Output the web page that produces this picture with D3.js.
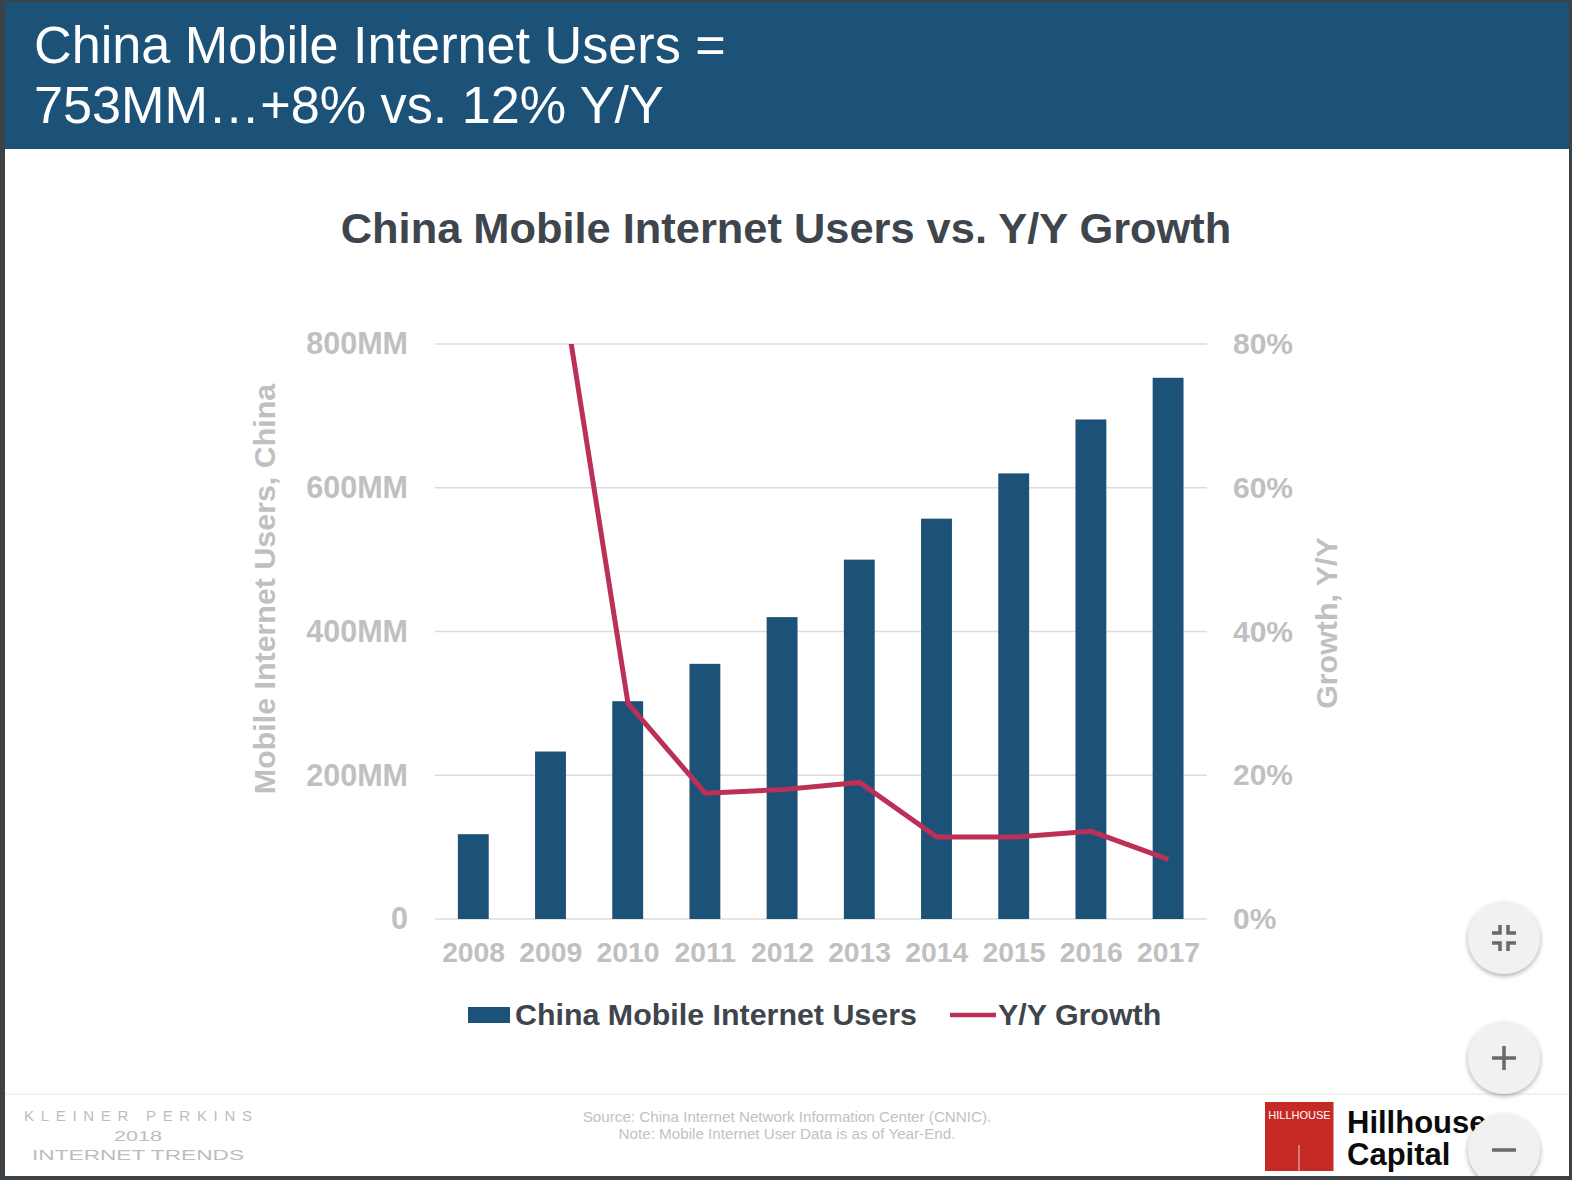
<!DOCTYPE html>
<html><head><meta charset="utf-8">
<script src="https://cdnjs.cloudflare.com/ajax/libs/d3/7.8.5/d3.min.js"></script>
<style>html,body{margin:0;padding:0;background:#3d4246;overflow:hidden}svg{display:block}</style>
</head><body><svg id="c" width="1572" height="1180"></svg>
<script>
const years=["2008","2009","2010","2011","2012","2013","2014","2015","2016","2017"];
const users=[118,233,303,355,420,500,557,620,695,753];
const growth=[null,98,30,17.5,18,19,11.4,11.4,12.2,8.3];
const leftTicks=[0,200,400,600,800];
const rightTicks=[0,20,40,60,80];
const headline=["China Mobile Internet Users =","753MM…+8% vs. 12% Y/Y"];
const chartTitle="China Mobile Internet Users vs. Y/Y Growth";
const legendLabels=["China Mobile Internet Users","Y/Y Growth"];
const sourceLines=["Source: China Internet Network Information Center (CNNIC).","Note: Mobile Internet User Data is as of Year-End."];
const BLUE="#1d5278",RED="#bc3058",GREY="#c0c0c0",DARK="#3e454c";
const AR="'Liberation Sans', Arial, sans-serif";
const svg=d3.select("#c");
svg.append("rect").attr("x",5).attr("y",2).attr("width",1564).attr("height",1174).attr("fill","#fff");
svg.append("rect").attr("x",5).attr("y",2).attr("width",1564).attr("height",147).attr("fill",BLUE);
svg.selectAll("text.h").data(headline).join("text").attr("class","h")
  .attr("x",34).attr("y",(d,i)=>63+i*60).attr("fill","#fff").attr("font-family",AR).attr("font-size",52.2).text(d=>d);
svg.append("text").attr("x",786).attr("y",243).attr("text-anchor","middle").attr("fill",DARK)
  .attr("font-family",AR).attr("font-weight",700).attr("font-size",43.4).text(chartTitle);

const x=d3.scaleBand().domain(years).range([435,1207]).paddingInner(0.6).paddingOuter(0.3);
const y=d3.scaleLinear().domain([0,800]).range([919,344]);
const yR=d3.scaleLinear().domain([0,80]).range([919,344]);

const grid=svg.append("g");
grid.selectAll("line").data(leftTicks).join("line").attr("x1",435).attr("x2",1207)
  .attr("y1",d=>y(d)).attr("y2",d=>y(d)).attr("stroke","#dcdcdc").attr("stroke-width",1.6);

const style=size=>g=>{g.select(".domain").remove();g.selectAll(".tick line").remove();
  g.selectAll("text").attr("fill",GREY).attr("font-family",AR).attr("font-weight",700).attr("font-size",size);};
svg.append("g").attr("transform","translate(434,0)")
  .call(d3.axisLeft(y).tickValues(leftTicks).tickSize(0).tickPadding(26).tickFormat(d=>d?d+"MM":"0")).call(style(30.5));
svg.append("g").attr("transform","translate(1207,0)")
  .call(d3.axisRight(yR).tickValues(rightTicks).tickSize(0).tickPadding(26).tickFormat(d=>d+"%")).call(style(30));
svg.append("g").attr("transform","translate(0,918)")
  .call(d3.axisBottom(x).tickSize(0).tickPadding(24)).call(style(28.3));

svg.append("g").selectAll("rect").data(years).join("rect")
  .attr("x",d=>x(d)-0.3).attr("width",x.bandwidth())
  .attr("y",(d,i)=>y(users[i])).attr("height",(d,i)=>y(0)-y(users[i])).attr("fill",BLUE);

svg.append("clipPath").attr("id","pc").append("rect").attr("x",435).attr("y",344).attr("width",772).attr("height",575);
const line=d3.line().defined(d=>d[1]!==null).x(d=>x(d[0])+x.bandwidth()/2).y(d=>yR(d[1]));
svg.append("path").attr("clip-path","url(#pc)").attr("d",line(years.map((d,i)=>[d,growth[i]])))
  .attr("fill","none").attr("stroke",RED).attr("stroke-width",5).attr("stroke-linejoin","miter");

const at=(xx,yy,t)=>svg.append("text").attr("transform",`translate(${xx},${yy}) rotate(-90)`).attr("text-anchor","middle")
  .attr("fill",GREY).attr("font-family",AR).attr("font-weight",700).attr("font-size",30.4).text(t);
at(275,589,"Mobile Internet Users, China");
at(1337,623,"Growth, Y/Y");

// legend
svg.append("rect").attr("x",468).attr("y",1007).attr("width",42).attr("height",16).attr("fill",BLUE);
svg.append("line").attr("x1",950).attr("x2",996).attr("y1",1015).attr("y2",1015).attr("stroke",RED).attr("stroke-width",4.5);
svg.selectAll("text.l").data(legendLabels).join("text").attr("class","l")
  .attr("x",(d,i)=>[515,998][i]).attr("y",1025).attr("fill",DARK).attr("font-family",AR).attr("font-weight",700).attr("font-size",30.4).text(d=>d);

// footer
svg.append("line").attr("x1",5).attr("x2",1569).attr("y1",1094).attr("y2",1094).attr("stroke","#efefef").attr("stroke-width",1.5);
svg.selectAll("text.s").data(sourceLines).join("text").attr("class","s").attr("x",787).attr("y",(d,i)=>1122+i*16.5)
  .attr("text-anchor","middle").attr("fill","#c2c2c2").attr("font-family",AR).attr("font-size",15.2).text(d=>d);
const kp=[["KLEINER PERKINS",138,1121,15,228,"spacing"],["2018",138,1141,14,48,"spacingAndGlyphs"],["INTERNET TRENDS",138,1160,15,212,"spacingAndGlyphs"]];
svg.selectAll("text.k").data(kp).join("text").attr("class","k").attr("x",d=>d[1]).attr("y",d=>d[2]).attr("text-anchor","middle")
  .attr("fill","#bdbdbd").attr("font-family",AR).attr("font-size",d=>d[3]).attr("textLength",d=>d[4]).attr("lengthAdjust",d=>d[5]).text(d=>d[0]);

// logo
svg.append("rect").attr("x",1265).attr("y",1102).attr("width",68.5).attr("height",69).attr("fill","#c62a25");
svg.append("line").attr("x1",1299).attr("x2",1299).attr("y1",1145).attr("y2",1171).attr("stroke","#f0c0bb").attr("stroke-width",1);
svg.append("text").attr("x",1299.5).attr("y",1119).attr("text-anchor","middle").attr("fill","#fff").attr("font-family",AR).attr("font-size",11).text("HILLHOUSE");
svg.selectAll("text.hc").data(["Hillhouse","Capital"]).join("text").attr("class","hc").attr("x",1347).attr("y",(d,i)=>1133+i*32)
  .attr("fill","#0b0b0b").attr("font-family",AR).attr("font-weight",700).attr("font-size",31).text(d=>d);

// buttons
const defs=svg.append("defs");
const f=defs.append("filter").attr("id","sh").attr("x","-30%").attr("y","-30%").attr("width","160%").attr("height","170%");
f.append("feDropShadow").attr("dx",0).attr("dy",2).attr("stdDeviation",2.5).attr("flood-color","#000").attr("flood-opacity",0.35);
const btnY=[938,1058,1150];
svg.selectAll("circle.b").data(btnY).join("circle").attr("class","b").attr("cx",1504).attr("cy",d=>d).attr("r",36).attr("fill","#f1f1f1").attr("filter","url(#sh)");
const ic=svg.append("g").attr("stroke","#6a6a6a").attr("stroke-width",3.5).attr("fill","none");
ic.append("path").attr("d","M1492 1058H1516M1504 1046V1070M1492 1150H1516");
ic.append("path").attr("d","M1492 933H1500V925M1516 933H1508V925M1492 943H1500V951M1516 943H1508V951");
// frame bottom over the button
svg.append("rect").attr("x",0).attr("y",1176).attr("width",1572).attr("height",4).attr("fill","#3d4246");
svg.append("rect").attr("x",1569).attr("y",0).attr("width",3).attr("height",1180).attr("fill","#3d4246");
</script></body></html>
